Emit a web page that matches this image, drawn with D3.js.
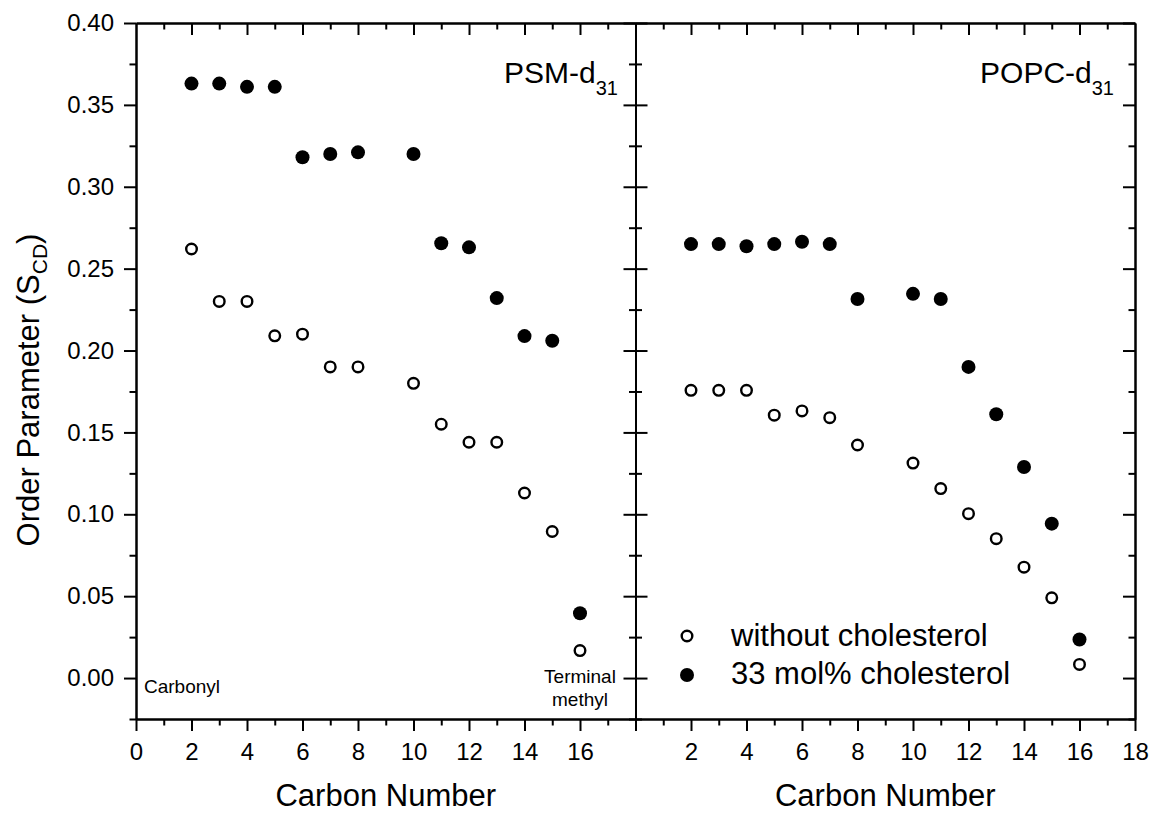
<!DOCTYPE html>
<html>
<head>
<meta charset="utf-8">
<script src="https://cdn.jsdelivr.net/npm/d3@7"></script>
<style>
  body { margin: 0; background: #fff; }
  svg text { font-family: "Liberation Sans", Arial, sans-serif; fill: #000; }
  .axis path, .axis line { stroke: #000; stroke-width: 2; }
</style>
</head>
<body>
<svg id="chart" width="1152" height="815"></svg>
<script>
// carbon positions
var carbons = [2, 3, 4, 5, 6, 7, 8, 10, 11, 12, 13, 14, 15, 16];

// PSM-d31
var psmNoChol = [0.262, 0.230, 0.230, 0.209, 0.210, 0.190, 0.190, 0.180, 0.155, 0.144, 0.144, 0.113, 0.0895, 0.0168];
var psmChol   = [0.363, 0.363, 0.361, 0.361, 0.318, 0.320, 0.321, 0.320, 0.2655, 0.263, 0.232, 0.2088, 0.206, 0.0396];

// POPC-d31
var popcNoChol = [0.1757, 0.1757, 0.1757, 0.1605, 0.1631, 0.159, 0.1423, 0.1313, 0.1157, 0.1004, 0.0851, 0.0677, 0.049, 0.0083];
var popcChol   = [0.265, 0.265, 0.2637, 0.265, 0.2664, 0.265, 0.2315, 0.2346, 0.2315, 0.190, 0.1611, 0.1289, 0.0943, 0.0235];

var yMajor = [0, 0.05, 0.10, 0.15, 0.20, 0.25, 0.30, 0.35, 0.40];
var yMinor = [-0.025, 0.025, 0.075, 0.125, 0.175, 0.225, 0.275, 0.325, 0.375];
var xMajorLeft = [0, 2, 4, 6, 8, 10, 12, 14, 16];
var xMajorRight = [0, 2, 4, 6, 8, 10, 12, 14, 16, 18];
var xMinor = [1, 3, 5, 7, 9, 11, 13, 15, 17];

var svg = d3.select("#chart");
var plotTop = 23, plotBottom = 719;
var xL0 = 136, xMid = 635.5, xR1 = 1135;

var y = d3.scaleLinear().domain([-0.025, 0.40]).range([plotBottom, plotTop]);
var xLeft = d3.scaleLinear().domain([0, 18]).range([xL0, xMid]);
var xRight = d3.scaleLinear().domain([0, 18]).range([xMid, xR1]);

function drawPanel(x, noChol, chol, opts){
	var g = svg.append("g");

	// bottom
	g.append("g").attr("class", "axis").attr("transform", "translate(0," + plotBottom + ")")
		.call(d3.axisBottom(x).tickValues(opts.xMajor).tickSize(12).tickSizeOuter(0).tickPadding(12)
			.tickFormat(function(d){ return opts.hideLabel.indexOf(d) >= 0 ? "" : d; }));
	g.append("g").attr("class", "axis").attr("transform", "translate(0," + plotBottom + ")")
		.call(d3.axisBottom(x).tickValues(xMinor).tickSize(6.5).tickSizeOuter(0).tickFormat(""));
	// top, ticks inward
	g.append("g").attr("class", "axis").attr("transform", "translate(0," + plotTop + ")")
		.call(d3.axisTop(x).tickValues(opts.xMajor.filter(function(d){ return d > 0 && d < 18; })).tickSize(-12).tickSizeOuter(0).tickFormat(""));
	g.append("g").attr("class", "axis").attr("transform", "translate(0," + plotTop + ")")
		.call(d3.axisTop(x).tickValues(xMinor).tickSize(-6.5).tickSizeOuter(0).tickFormat(""));

	// left
	var xl = x.range()[0], xr = x.range()[1];
	if(opts.leftLabels){
		g.append("g").attr("class", "axis").attr("transform", "translate(" + xl + ",0)")
			.call(d3.axisLeft(y).tickValues(yMajor).tickSize(12).tickSizeOuter(0).tickPadding(10).tickFormat(d3.format(".2f")));
		g.append("g").attr("class", "axis").attr("transform", "translate(" + xl + ",0)")
			.call(d3.axisLeft(y).tickValues(yMinor).tickSize(6.5).tickSizeOuter(0).tickFormat(""));
	} else {
		// shared border: ticks into this panel
		g.append("g").attr("class", "axis").attr("transform", "translate(" + xl + ",0)")
			.call(d3.axisLeft(y).tickValues(yMajor).tickSize(-12).tickSizeOuter(0).tickFormat(""));
		g.append("g").attr("class", "axis").attr("transform", "translate(" + xl + ",0)")
			.call(d3.axisLeft(y).tickValues(yMinor).tickSize(-6.5).tickSizeOuter(0).tickFormat(""));
	}
	// right, ticks inward
	g.append("g").attr("class", "axis").attr("transform", "translate(" + xr + ",0)")
		.call(d3.axisRight(y).tickValues(yMajor).tickSize(-12).tickSizeOuter(0).tickFormat(""));
	g.append("g").attr("class", "axis").attr("transform", "translate(" + xr + ",0)")
		.call(d3.axisRight(y).tickValues(yMinor).tickSize(-6.5).tickSizeOuter(0).tickFormat(""));

	g.selectAll(".axis").attr("font-size", 24).attr("font-family", "Liberation Sans, Arial, sans-serif");

	// points
	g.selectAll(".open").data(carbons).enter().append("circle")
		.attr("cx", function(d){ return x(d); })
		.attr("cy", function(d, i){ return y(noChol[i]); })
		.attr("r", 5.3).attr("fill", "#fff").attr("stroke", "#000").attr("stroke-width", 2.4);
	g.selectAll(".filled").data(carbons).enter().append("circle")
		.attr("cx", function(d){ return x(d); })
		.attr("cy", function(d, i){ return y(chol[i]); })
		.attr("r", 7).attr("fill", "#000");

	// panel name
	var t = g.append("text").attr("x", opts.nameX).attr("y", 83).attr("text-anchor", "end").style("font-size", "30px");
	t.append("tspan").text(opts.name);
	t.append("tspan").attr("dy", 12).style("font-size", "20px").text("31");

	// x title
	g.append("text").attr("x", (xl + xr) / 2).attr("y", 806).attr("text-anchor", "middle")
		.style("font-size", "31px").text("Carbon Number");
	return g;
}

var gL = drawPanel(xLeft, psmNoChol, psmChol, {xMajor: xMajorLeft, hideLabel: [], leftLabels: true, name: "PSM-d", nameX: 618});
var gR = drawPanel(xRight, popcNoChol, popcChol, {xMajor: xMajorRight, hideLabel: [0], leftLabels: false, name: "POPC-d", nameX: 1114});

// annotations
gL.append("text").attr("x", 144).attr("y", 693).style("font-size", "19px").text("Carbonyl");
gL.append("text").attr("x", xLeft(16)).attr("y", 683).attr("text-anchor", "middle").style("font-size", "19px").text("Terminal");
gL.append("text").attr("x", xLeft(16)).attr("y", 706).attr("text-anchor", "middle").style("font-size", "19px").text("methyl");

// legend
var leg = gR.append("g");
leg.append("circle").attr("cx", 687).attr("cy", 636).attr("r", 5.3).attr("fill", "#fff").attr("stroke", "#000").attr("stroke-width", 2.4);
leg.append("text").attr("x", 731).attr("y", 646).style("font-size", "31px").text("without cholesterol");
leg.append("circle").attr("cx", 687).attr("cy", 675).attr("r", 7).attr("fill", "#000");
leg.append("text").attr("x", 731).attr("y", 684).style("font-size", "31px").text("33 mol% cholesterol");

// y title
var yt = svg.append("text").attr("transform", "translate(39,390) rotate(-90)").attr("text-anchor", "middle").style("font-size", "31px");
yt.append("tspan").text("Order Parameter (S");
yt.append("tspan").attr("dy", 8).style("font-size", "21px").text("CD");
yt.append("tspan").attr("dy", -8).text(")");
</script>
</body>
</html>
